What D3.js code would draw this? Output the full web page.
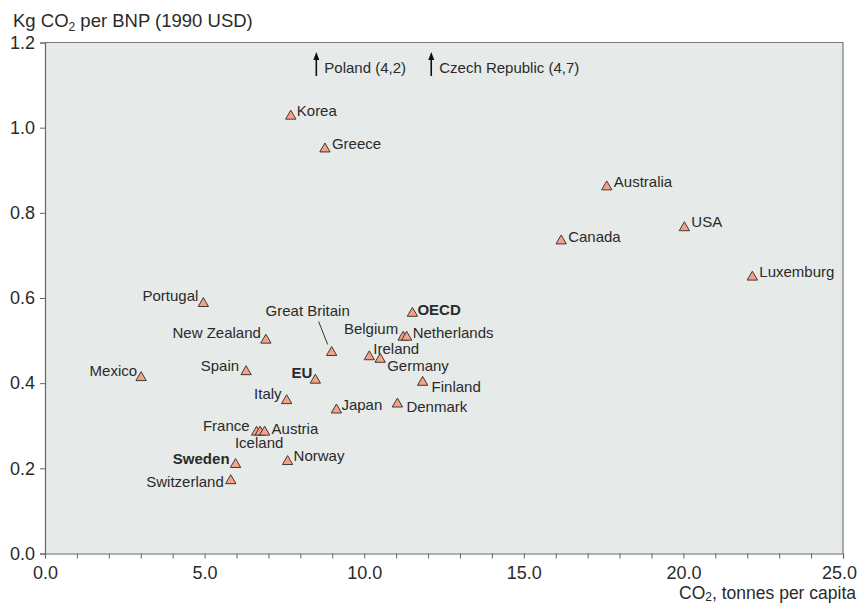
<!DOCTYPE html>
<html>
<head>
<meta charset="utf-8">
<script src="https://cdn.jsdelivr.net/npm/d3@7"></script>
<style>
  html, body { margin: 0; padding: 0; background: #ffffff; }
  svg { display: block; font-family: "Liberation Sans", Arial, sans-serif; }
</style>
</head>
<body>
<svg id="chart" width="858" height="604"></svg>
<script>
// ---- Data ----
const countries = ["Korea","Greece","Australia","USA","Canada","Luxemburg","Portugal","OECD",
  "New Zealand","Belgium","Netherlands","Great Britain","Ireland","Germany","Mexico","Spain",
  "EU","Finland","Italy","Japan","Denmark","France","Iceland","Austria","Sweden","Norway","Switzerland"];
const co2PerCapita = [7.70, 8.77, 17.60, 20.03, 16.17, 22.16, 4.96, 11.51,
  6.92, 11.22, 11.33, 8.98, 10.16, 10.50, 3.01, 6.30,
  8.47, 11.83, 7.57, 9.13, 11.04, 6.63, 6.74, 6.88, 5.97, 7.60, 5.82];
const co2PerGdp = [1.027, 0.950, 0.861, 0.765, 0.734, 0.649, 0.587, 0.564,
  0.501, 0.508, 0.508, 0.472, 0.462, 0.456, 0.413, 0.427,
  0.407, 0.402, 0.359, 0.337, 0.351, 0.285, 0.285, 0.285, 0.209, 0.216, 0.171];
const highlighted = ["OECD", "EU", "Sweden"];

// Off-chart countries (shown with arrows at the top)
const offCountries = ["Poland", "Czech Republic"];
const offCo2PerCapita = [8.5, 12.1];
const offCo2PerGdp = [4.2, 4.7];

const xTicks = [0, 5, 10, 15, 20, 25];
const xMinorTicks = d3.range(0, 26, 1);
const yTicks = [0, 0.2, 0.4, 0.6, 0.8, 1.0, 1.2];
const yTitle = ["Kg CO", "2", " per BNP (1990 USD)"];
const xTitle = ["CO", "2", ", tonnes per capita"];

// ---- Label layout (offsets from point, px) ----
const labelLayout = {
  "Korea": [6, -5, "start"], "Greece": [7, -5, "start"], "Australia": [7, -5, "start"],
  "USA": [7, -6, "start"], "Canada": [7, -4, "start"], "Luxemburg": [7, -5, "start"],
  "Portugal": [-5, -8, "end"], "OECD": [5, -4, "start"], "New Zealand": [-5, -7, "end"],
  "Belgium": [-5, -8, "end"], "Netherlands": [6, -4, "start"], "Great Britain": [-24, -42, "middle"],
  "Ireland": [4, -8, "start"], "Germany": [7, 6, "start"], "Mexico": [-4, -7, "end"],
  "Spain": [-7, -6, "end"], "EU": [-3, -7, "end"], "Finland": [9, 4, "start"],
  "Italy": [-5, -7, "end"], "Japan": [5, -5, "start"], "Denmark": [9, 3, "start"],
  "France": [-7, -6, "end"], "Iceland": [-1, 11, "middle"], "Austria": [7, -3, "start"],
  "Sweden": [-6, -6, "end"], "Norway": [6, -6, "start"], "Switzerland": [-7, 1, "end"]
};

(function () {
// ---- Layout ----
const svg = d3.select("#chart");
const pLeft = 45, pRight = 843, pTop = 42.5, pBottom = 553.5;
const textColor = "#2a2a2a";

const x = d3.scaleLinear().domain([0, 25]).range([pLeft, pRight]);
const y = d3.scaleLinear().domain([0, 1.2]).range([pBottom, pTop]);

// plot background
svg.append("rect")
  .attr("x", pLeft).attr("y", pTop)
  .attr("width", pRight - pLeft).attr("height", pBottom - pTop)
  .attr("fill", "#e6ebe9")
  .attr("stroke", "none");
// top & right border
svg.append("path")
  .attr("d", `M${pLeft},${pTop}H${pRight}V${pBottom}`)
  .attr("fill", "none").attr("stroke", "#7a7a7a").attr("stroke-width", 1.2);

// X axis
const fmt = d3.format(".1f");
const xAxisG = svg.append("g").attr("transform", `translate(0,${pBottom})`)
  .call(d3.axisBottom(x).tickValues(xMinorTicks).tickSize(5).tickFormat(""));
xAxisG.select(".domain").attr("stroke", "#666").attr("stroke-width", 1.2);
xAxisG.selectAll(".tick line").attr("stroke", "#666").attr("stroke-width", 1);
const xLabG = svg.append("g").attr("transform", `translate(0,${pBottom})`)
  .call(d3.axisBottom(x).tickValues(xTicks).tickSize(0).tickPadding(25).tickFormat(fmt));
xLabG.select(".domain").remove();
xLabG.selectAll("text").attr("font-size", 18).attr("fill", textColor)
  .attr("font-family", "Liberation Sans, Arial, sans-serif").attr("dy", 0)
  .attr("dx", d => d === xTicks[xTicks.length - 1] ? -4 : 0);

// Y axis
const yAxisG = svg.append("g").attr("transform", `translate(${pLeft},0)`)
  .call(d3.axisLeft(y).tickValues(yTicks).tickSize(5).tickPadding(5).tickFormat(fmt));
yAxisG.select(".domain").attr("stroke", "#666").attr("stroke-width", 1.2);
yAxisG.selectAll(".tick line").attr("stroke", "#666");
yAxisG.selectAll("text").attr("font-size", 18).attr("fill", textColor)
  .attr("font-family", "Liberation Sans, Arial, sans-serif");

// Axis titles
const yT = svg.append("text").attr("x", 13).attr("y", 27)
  .attr("font-size", 18.5).attr("fill", textColor);
yT.append("tspan").text(yTitle[0]);
yT.append("tspan").attr("font-size", 12).attr("dy", 4).text(yTitle[1]);
yT.append("tspan").attr("dy", -4).text(yTitle[2]);

const xT = svg.append("text").attr("x", 856).attr("y", 599)
  .attr("text-anchor", "end").attr("font-size", 17.5).attr("fill", textColor);
xT.append("tspan").text(xTitle[0]);
xT.append("tspan").attr("font-size", 12).attr("dy", 2).text(xTitle[1]);
xT.append("tspan").attr("dy", -2).text(xTitle[2]);

// Data
const data = countries.map((c, i) => ({ name: c, x: co2PerCapita[i], y: co2PerGdp[i] }));

// Great Britain leader line
const gb = data.find(d => d.name === "Great Britain");
svg.append("line")
  .attr("x1", x(gb.x) - 13).attr("y1", y(gb.y) - 31)
  .attr("x2", x(gb.x) - 4).attr("y2", y(gb.y) - 8)
  .attr("stroke", "#333").attr("stroke-width", 1);

// markers
const tri = d3.symbol().type(d3.symbolTriangle).size(46);
svg.append("g").selectAll("path").data(data).join("path")
  .attr("d", tri)
  .attr("transform", d => `translate(${x(d.x)},${y(d.y)})`)
  .attr("fill", "#f8a184").attr("stroke", "#3a3a3a").attr("stroke-width", 1);

// labels
svg.append("g").selectAll("text").data(data).join("text")
  .attr("x", d => x(d.x) + labelLayout[d.name][0])
  .attr("y", d => y(d.y) + labelLayout[d.name][1])
  .attr("dy", "0.35em")
  .attr("text-anchor", d => labelLayout[d.name][2])
  .attr("font-size", 15)
  .attr("font-weight", d => highlighted.includes(d.name) ? "bold" : "normal")
  .attr("fill", textColor)
  .text(d => d.name);

// off-chart arrows
const comma = v => d3.format(".1f")(v).replace(".", ",");
offCountries.forEach((c, i) => {
  const px = x(offCo2PerCapita[i]);
  svg.append("line")
    .attr("x1", px).attr("x2", px).attr("y1", 76).attr("y2", 57)
    .attr("stroke", "#111").attr("stroke-width", 1.6);
  svg.append("path")
    .attr("d", `M${px - 3},${60}L${px},${52}L${px + 3},${60}Z`)
    .attr("fill", "#111");
  svg.append("text")
    .attr("x", px + 8).attr("y", 68).attr("dy", "0.35em")
    .attr("font-size", 15).attr("fill", textColor)
    .text(`${c} (${comma(offCo2PerGdp[i])})`);
});
})();
</script>
</body>
</html>
